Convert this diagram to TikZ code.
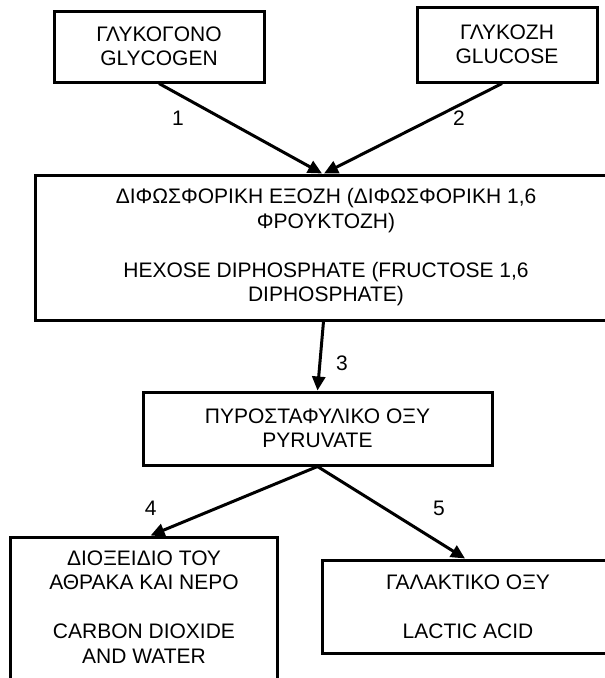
\documentclass[tikz,border=0pt]{standalone}
\usepackage{fontspec}
\setmainfont{Liberation Sans}
\usetikzlibrary{arrows.meta}
\tikzset{
  stage/.style={draw, line width=3pt, align=center, inner sep=0pt,
    font=\fontsize{21}{24.5}\selectfont},
  flow/.style={line width=3pt, -{Triangle[length=14pt,width=13pt]}},
  stepno/.style={inner sep=0pt, font=\fontsize{21}{24.5}\selectfont}
}
\begin{document}
\begin{tikzpicture}[x=1pt,y=-1pt]
  \useasboundingbox (0,0) rectangle (605,678);
  \clip (0,0) rectangle (605,678);
  % sugars
  \node[stage, minimum width=210pt, minimum height=71pt] (glycogen) at (159,46.5)
    {ΓΛΥΚΟΓΟΝΟ\\GLYCOGEN};
  \node[stage, minimum width=180pt, minimum height=75pt] (glucose) at (507,44.5)
    {ΓΛΥΚΟΖΗ\\GLUCOSE};
  % hexose diphosphate
  \node[stage, minimum width=582pt, minimum height=145pt] (hexose) at (326,247.5)
    {ΔΙΦΩΣΦΟΡΙΚΗ ΕΞΟΖΗ (ΔΙΦΩΣΦΟΡΙΚΗ 1,6\\ΦΡΟΥΚΤΟΖΗ)\\[24.5pt]
     HEXOSE DIPHOSPHATE (FRUCTOSE 1,6\\DIPHOSPHATE)};
  \node[stage, minimum width=349pt, minimum height=73pt] (pyruvate) at (317.5,428.5)
    {ΠΥΡΟΣΤΑΦΥΛΙΚΟ ΟΞΥ\\PYRUVATE};
  % end products
  \node[stage, minimum width=267pt, minimum height=176pt] (codioxide) at (144,625)
    {ΔΙΟΞΕΙΔΙΟ ΤΟΥ\\ΑΘΡΑΚΑ ΚΑΙ ΝΕΡΟ\\[24.5pt]CARBON DIOXIDE\\AND WATER\\[12pt]\mbox{}};
  \node[stage, minimum width=292pt, minimum height=93pt] (lactic) at (468,606.5)
    {ΓΑΛΑΚΤΙΚΟ ΟΞΥ\\[24.5pt]LACTIC ACID};
  % steps
  \draw[flow] (glycogen.south) -- ([xshift=-4pt]hexose.north);
  \draw[flow] ([xshift=-5pt]glucose.south) -- ([xshift=-2pt]hexose.north);
  \draw[flow] ([xshift=-2.5pt]hexose.south) -- (pyruvate.north);
  \draw[flow] (pyruvate.south) -- ([xshift=6.6pt]codioxide.north);
  \draw[flow] (pyruvate.south) -- ([xshift=-3pt]lactic.north);
  \node[stepno] (n1) at (178,118) {1};
  \node[stepno] (n2) at (459,118) {2};
  \node[stepno] (n3) at (342,363) {3};
  \node[stepno] (n4) at (150.6,508) {4};
  \node[stepno] (n5) at (439,508) {5};
\end{tikzpicture}
\end{document}
